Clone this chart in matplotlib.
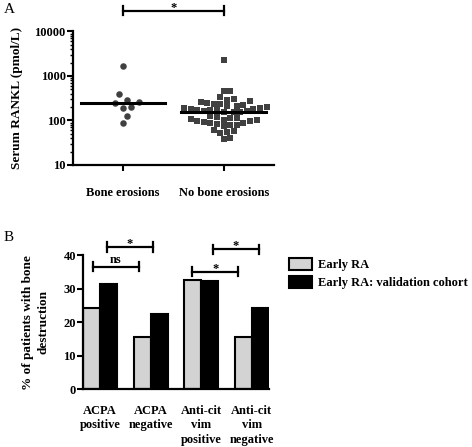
import numpy as np
import matplotlib
matplotlib.use("Agg")
import matplotlib.pyplot as plt

plt.rcParams['font.family'] = ['Liberation Serif', 'DejaVu Serif']
plt.rcParams['font.weight'] = 'bold'

# ---------------- data ----------------
groups_a = ["Bone erosions", "No bone erosions"]
erosions = [1700, 394, 288, 263, 244, 200, 194, 128, 89]
no_erosions = [2290, 470, 460, 330, 305, 295, 275,
               255, 245, 240, 230, 222, 215, 208, 200, 195, 190, 185, 180,
               176, 172, 168, 165, 160, 158, 155, 152,
               125, 120, 116, 112, 108, 105, 102, 99, 96, 93, 90, 87, 84, 81, 78, 75,
               61, 58, 56, 53, 40, 39]
yticks_a = [10, 100, 1000, 10000]

categories_b = ["ACPA\npositive", "ACPA\nnegative", "Anti-cit\nvim\npositive", "Anti-cit\nvim\nnegative"]
early_ra = [24.1, 15.6, 32.5, 15.5]
validation = [31.3, 22.4, 32.3, 24.2]
series_b = ["Early RA", "Early RA: validation cohort"]
yticks_b = [0, 10, 20, 30, 40]

FS = 9
fig = plt.figure(figsize=(4.72, 4.47), dpi=100)

# ---------------- panel A ----------------
axA = fig.add_axes([0.154, 0.6309, 0.4265, 0.2987])
axA.set_yscale('log')
axA.set_ylim(10, 10000)
axA.set_xlim(-0.5, 1.5)
fig.canvas.draw()


def swarm(ax, xc, vals, diam_px):
    pts = []
    out = []
    tr = ax.transData
    for v in sorted(vals):
        px, py = tr.transform((xc, v))
        cands = [0]
        for i in range(1, 40):
            cands += [i * diam_px * 0.5, -i * diam_px * 0.5]
        for c in cands:
            ok = True
            for (qx, qy) in pts:
                if (px + c - qx) ** 2 + (py - qy) ** 2 < (diam_px * 0.98) ** 2:
                    ok = False
                    break
            if ok:
                break
        pts.append((px + c, py))
        out.append(tr.inverted().transform((px + c, py)))
    return np.array(out)


p1 = swarm(axA, 0, erosions, 8.0)
p2 = swarm(axA, 1, no_erosions, 6.6)
axA.scatter(p1[:, 0], p1[:, 1], s=22, marker='o', color='#404040', zorder=3, linewidths=0)
axA.scatter(p2[:, 0], p2[:, 1], s=19, marker='s', color='#404040', zorder=3, linewidths=0)
for i, vals in enumerate([erosions, no_erosions]):
    m = np.median(vals)
    axA.plot([i - 0.42, i + 0.42], [m, m], color='black', lw=2.2, zorder=4)

axA.set_xticks([0, 1])
axA.set_xticklabels(groups_a, fontsize=FS, fontweight='bold')
axA.set_yticks(yticks_a)
axA.set_yticklabels([str(t) for t in yticks_a], fontsize=FS, fontweight='bold')
axA.tick_params(axis='x', length=4, width=1.5, pad=12)
axA.tick_params(axis='y', which='major', length=4, width=1.5, pad=1)
axA.tick_params(axis='y', which='minor', length=2, width=1)
for s in ['top', 'right']:
    axA.spines[s].set_visible(False)
for s in ['left', 'bottom']:
    axA.spines[s].set_linewidth(1.6)
axA.set_ylabel("Serum RANKL (pmol/L)", fontsize=FS + 0.5, fontweight='bold', labelpad=8)

# significance bracket A
yb = 29500
axA.plot([0, 1], [yb, yb], color='black', lw=1.6, clip_on=False)
axA.plot([0, 0], [yb * 0.8, yb * 1.25], color='black', lw=1.6, clip_on=False)
axA.plot([1, 1], [yb * 0.8, yb * 1.25], color='black', lw=1.6, clip_on=False)
axA.annotate("*", xy=(0.5, yb), xytext=(0, 0), textcoords='offset points',
             ha='center', va='baseline', fontsize=FS, fontweight='bold', annotation_clip=False)

# ---------------- panel B ----------------
axB = fig.add_axes([0.1758, 0.1291, 0.394, 0.3004])
x = np.arange(len(categories_b))
w = 0.34
axB.bar(x - w / 2, early_ra, width=w, color='#d3d3d3', edgecolor='black', linewidth=1.5, label=series_b[0])
axB.bar(x + w / 2, validation, width=w, color='black', edgecolor='black', linewidth=1.5, label=series_b[1])
axB.set_xlim(-0.34, 3.34)
axB.set_ylim(0, 40)
axB.set_yticks(yticks_b)
axB.set_yticklabels([str(t) for t in yticks_b], fontsize=FS, fontweight='bold')
axB.set_xticks(x)
axB.set_xticklabels(categories_b, fontsize=FS, fontweight='bold', linespacing=1.3)
axB.tick_params(axis='x', length=0, pad=11)
axB.tick_params(axis='y', length=4, width=1.5, pad=1)
for s in ['top', 'right']:
    axB.spines[s].set_visible(False)
for s in ['left', 'bottom']:
    axB.spines[s].set_linewidth(1.6)
axB.set_ylabel("% of patients with bone\ndestruction", fontsize=FS + 0.5, fontweight='bold',
               labelpad=10, linespacing=1.35)


def bracket(ax, x1, x2, y, txt, th=1.4, off=0.0):
    ax.plot([x1, x2], [y, y], color='black', lw=1.6, clip_on=False)
    ax.plot([x1, x1], [y - th, y + th], color='black', lw=1.6, clip_on=False)
    ax.plot([x2, x2], [y - th, y + th], color='black', lw=1.6, clip_on=False)
    ax.annotate(txt, xy=((x1 + x2) / 2, y), xytext=(0, off), textcoords='offset points',
                ha='center', va='baseline', fontsize=FS, fontweight='bold', annotation_clip=False)


bracket(axB, -0.15, 0.77, 36.5, "ns", off=3)
bracket(axB, 0.13, 1.04, 42.4, "*", off=0)
bracket(axB, 1.82, 2.73, 35.0, "*", off=0)
bracket(axB, 2.23, 3.15, 41.7, "*", off=0)

leg = axB.legend(loc='upper left', bbox_to_anchor=(1.05, 1.06), frameon=False,
                 handlelength=1.8, handleheight=1.1, handletextpad=0.5, labelspacing=0.35,
                 prop={'weight': 'bold', 'size': FS})

fig.text(0.008, 0.978, "A", fontsize=11, fontweight='normal', va='center', ha='left')
fig.text(0.008, 0.468, "B", fontsize=11, fontweight='normal', va='center', ha='left')

fig.savefig("out.png", dpi=100)
